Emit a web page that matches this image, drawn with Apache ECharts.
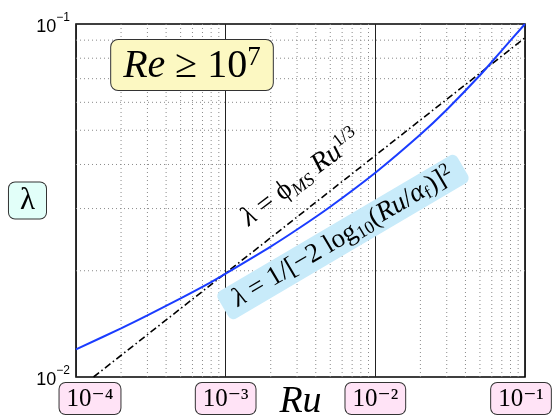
<!DOCTYPE html>
<html><head><meta charset="utf-8">
<script src="https://cdn.jsdelivr.net/npm/echarts@6/dist/echarts.min.js"></script>
<style>html,body{margin:0;padding:0;background:#fff}#c{width:553px;height:416px}</style>
</head><body><div id="c"></div>
<script>
// ---- data ----
const ruBlue = [1e-4, 2e-4, 3e-4, 5e-4, 7.5e-4, 1e-3, 2e-3, 3e-3, 5e-3, 1e-2, 2e-2, 3e-2, 5e-2, 7e-2, 1e-1];
const lamBlue = [0.01198, 0.01373, 0.01494, 0.01670, 0.0183, 0.01964, 0.02342, 0.02617, 0.03037, 0.03791, 0.04864, 0.05718, 0.07157, 0.08421, 0.1];
const ruMS = [1.31e-4, 1e-1];
const lamMS = [0.01, 0.0914];
const xTicks = [1e-4, 1e-3, 1e-2, 1e-1];
const xTickLabels = ['10⁻⁴', '10⁻³', '10⁻²', '10⁻¹'];
const yTicks = [0.01, 0.1];
const yTickExp = ['−2', '−1'];
const xMinor = [2e-4,3e-4,4e-4,5e-4,6e-4,7e-4,8e-4,9e-4,2e-3,3e-3,4e-3,5e-3,6e-3,7e-3,8e-3,9e-3,2e-2,3e-2,4e-2,5e-2,6e-2,7e-2,8e-2,9e-2];
const yMinor = [0.02,0.03,0.04,0.05,0.06,0.07,0.08,0.09];

const SERIF = 'Liberation Serif, DejaVu Serif, serif';
const SANS = 'Liberation Sans, Arial, sans-serif';

function nearestIdx(arr, v){
  let best=0, bd=Infinity;
  arr.forEach((a,i)=>{const d=Math.abs(Math.log10(a)-Math.log10(v)); if(d<bd){bd=d;best=i;}});
  return best;
}

const minorStyle = {type: [1, 3], color: '#8a8a8a', width: 1};
const gridSeries = [];
xMinor.forEach(v => gridSeries.push({
  type: 'line', data: [[v, yTicks[0]], [v, yTicks[1]]], symbol: 'none', silent: true, z: 1,
  lineStyle: minorStyle, emphasis: {disabled: true}
}));
yMinor.forEach(v => gridSeries.push({
  type: 'line', data: [[xTicks[0], v], [xTicks[xTicks.length-1], v]], symbol: 'none', silent: true, z: 1,
  lineStyle: minorStyle, emphasis: {disabled: true}
}));

const chart = echarts.init(document.getElementById('c'), null, {renderer:'canvas'});
const option = {
  animation: false,
  backgroundColor: '#fff',
  grid: {left: 76, right: 28, top: 24, bottom: 39, containLabel: false, outerBoundsMode: 'none',
    show: true, borderColor: '#000', borderWidth: 1.6, backgroundColor: 'transparent'},
  xAxis: {
    type: 'log', logBase: 10, min: 1e-4, max: 1e-1,
    axisLine: {show: false}, axisTick: {show: false},
    splitLine: {show: true, lineStyle: {color: '#222', width: 1}},
    axisLabel: {
      margin: 6, showMinLabel: true, showMaxLabel: true, hideOverlap: false,
      formatter: function(v){
        const i = nearestIdx(xTicks, v);
        const t = xTickLabels[i];
        if (i === 0) return '{sp| }{box|' + t + '}';
        if (i === xTicks.length-1) return '{box|' + t + '}{sp2| }';
        return '{box|' + t + '}';
      },
      rich: {
        sp: {width: 28, fontSize: 10},
        sp2: {width: 8, fontSize: 10},
        box: {fontFamily: SERIF, fontSize: 25, color: '#000', backgroundColor: '#ffe3f6', borderColor: '#333', borderWidth: 1, borderRadius: 6, padding: [4, 7, 2, 7]}
      }
    },
    name: 'Ru', nameLocation: 'middle', nameGap: 25, nameMoveOverlap: false,
    nameTextStyle: {fontFamily: SERIF, fontStyle: 'italic', fontSize: 38, color: '#000', verticalAlign: 'middle'}
  },
  yAxis: {
    type: 'log', logBase: 10, min: 0.01, max: 0.1,
    axisLine: {show: false}, axisTick: {show: false},
    splitLine: {show: false},
    axisLabel: {
      margin: 6, showMinLabel: true, showMaxLabel: true,
      formatter: function(v){
        const i = nearestIdx(yTicks, v);
        return '{b|10}{s|' + yTickExp[i] + '}';
      },
      rich: {
        b: {fontFamily: SANS, fontSize: 18, color: '#000', lineHeight: 24, verticalAlign: 'bottom'},
        s: {fontFamily: SANS, fontSize: 12, color: '#000', verticalAlign: 'top', lineHeight: 14}
      }
    },
    name: 'λ', nameLocation: 'middle', nameRotate: 0, nameGap: 30, nameMoveOverlap: false,
    nameTextStyle: {fontFamily: SERIF, fontSize: 31, color: '#000', verticalAlign: 'middle',
      backgroundColor: '#e2fff9', borderColor: '#333', borderWidth: 1, borderRadius: 6, padding: [3, 11, 2, 11]}
  },
  series: gridSeries.concat([
    {
      type: 'line', name: 'MS', data: ruMS.map((r,i)=>[r, lamMS[i]]), symbol: 'none', z: 3,
      lineStyle: {color: '#000', width: 1.6, type: [7, 3, 1.5, 3]}
    },
    {
      type: 'line', name: 'CW', data: ruBlue.map((r,i)=>[r, lamBlue[i]]), symbol: 'none', smooth: 0.3, z: 4,
      lineStyle: {color: '#1a3cff', width: 2}
    }
  ]),
  graphic: [
    {
      type: 'text', x: 192, y: 65, z: 10,
      style: {
        text: '{i|Re}{n| ≥ 10}{s|7}',
        align: 'center', verticalAlign: 'middle',
        backgroundColor: '#fcf8c2', borderColor: '#333', borderWidth: 1, borderRadius: 7, padding: [4, 12, 4, 12],
        rich: {
          i: {fontFamily: SERIF, fontStyle: 'italic', fontSize: 40, color: '#000', lineHeight: 42, verticalAlign: 'bottom'},
          n: {fontFamily: SERIF, fontSize: 40, color: '#000', lineHeight: 42, verticalAlign: 'bottom'},
          s: {fontFamily: SERIF, fontSize: 27, color: '#000', verticalAlign: 'top', lineHeight: 26}
        }
      }
    },
    {
      type: 'text', x: 301, y: 178, rotation: 37 * Math.PI / 180, z: 10,
      style: {
        text: '{i|λ}{n| = ϕ}{sub|MS}{n| }{i|Ru}{sup|1/3}',
        align: 'center', verticalAlign: 'middle',
        rich: {
          i: {fontFamily: SERIF, fontStyle: 'italic', fontSize: 28, color: '#000', lineHeight: 32, verticalAlign: 'middle'},
          n: {fontFamily: SERIF, fontSize: 28, color: '#000', lineHeight: 32, verticalAlign: 'middle'},
          sub: {fontFamily: SERIF, fontStyle: 'italic', fontSize: 18, color: '#000', verticalAlign: 'bottom', lineHeight: 18},
          sup: {fontFamily: SERIF, fontSize: 18, color: '#000', verticalAlign: 'top', lineHeight: 18}
        }
      }
    },
    {
      type: 'text', x: 343, y: 237, rotation: 30.5 * Math.PI / 180, z: 10,
      style: {
        text: '{i|λ}{n| = 1/[−2 log}{sub|10}{n|(}{i|Ru}{n|/}{i|α}{sub|f}{n|)]}{sup|2}',
        align: 'center', verticalAlign: 'middle',
        backgroundColor: '#c8ebfa', borderRadius: 6, padding: [1, 13, 1, 13],
        rich: {
          i: {fontFamily: SERIF, fontStyle: 'italic', fontSize: 27, color: '#000', lineHeight: 30, verticalAlign: 'middle'},
          n: {fontFamily: SERIF, fontSize: 27, color: '#000', lineHeight: 30, verticalAlign: 'middle'},
          sub: {fontFamily: SERIF, fontSize: 18, color: '#000', verticalAlign: 'bottom', lineHeight: 18},
          sup: {fontFamily: SERIF, fontSize: 18, color: '#000', verticalAlign: 'top', lineHeight: 18}
        }
      }
    }
  ]
};
chart.setOption(option);
</script>
</body></html>
